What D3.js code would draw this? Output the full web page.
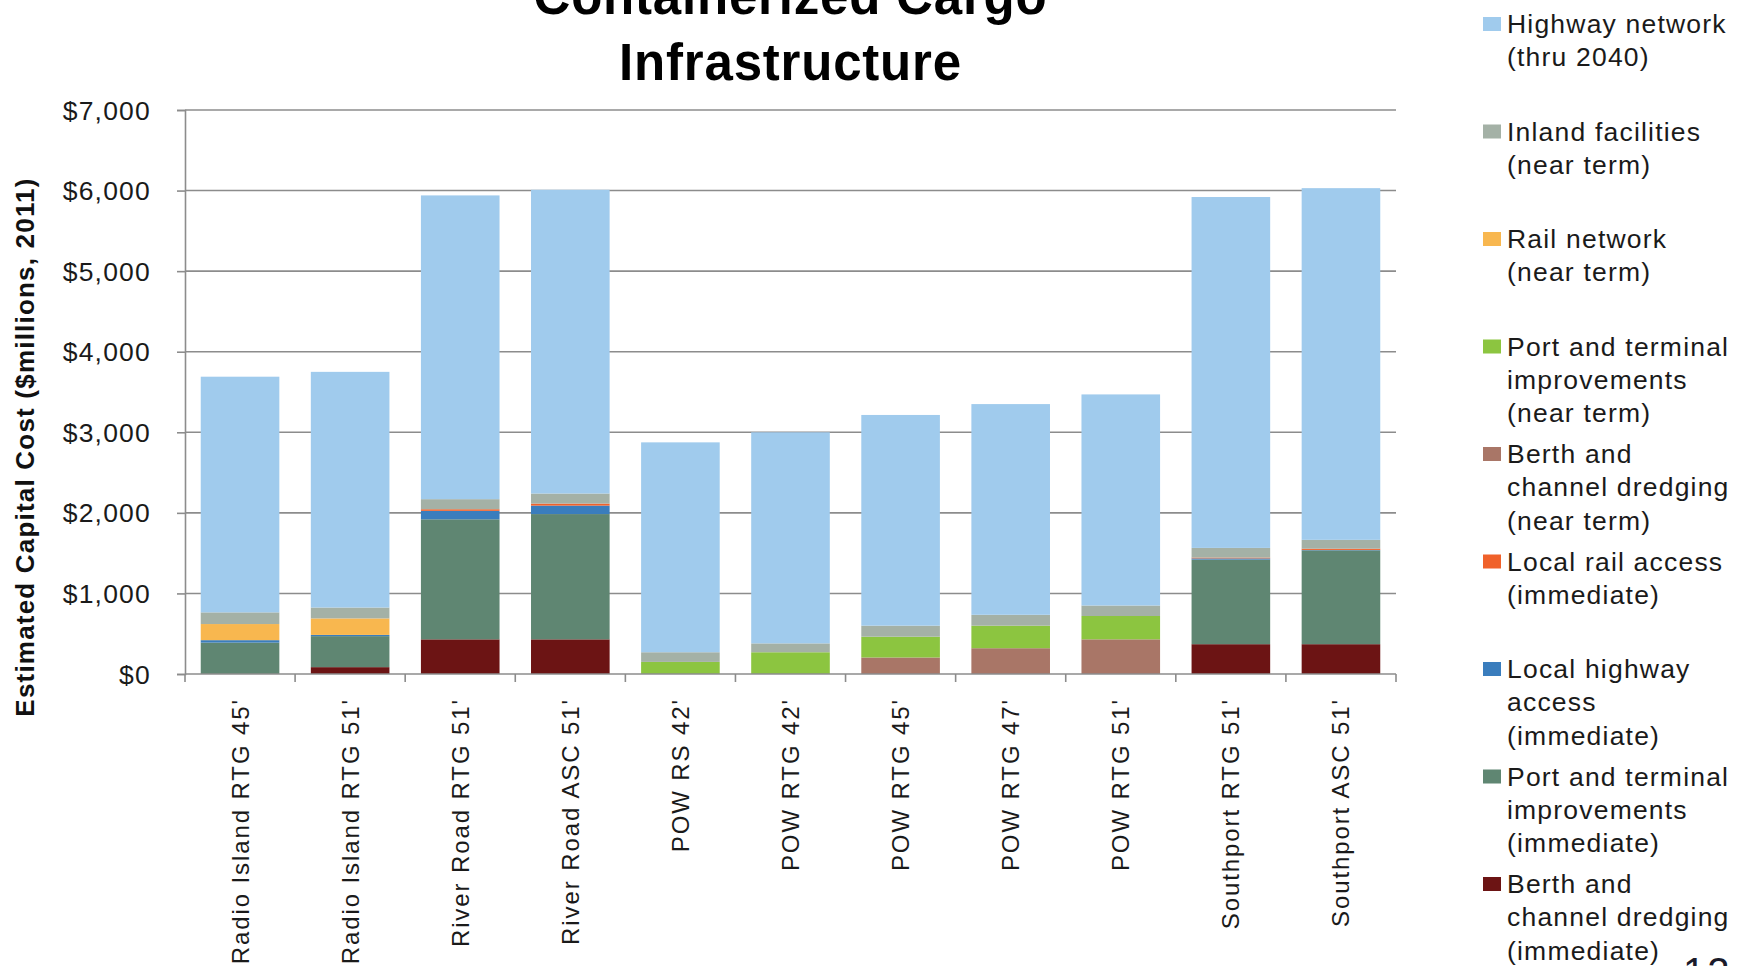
<!DOCTYPE html>
<html>
<head>
<meta charset="utf-8">
<script src="https://cdn.jsdelivr.net/npm/d3@7"></script>
<style>
  html, body { margin: 0; padding: 0; background: #ffffff; }
  svg { display: block; font-family: "Liberation Sans", Arial, sans-serif; }
</style>
</head>
<body>
<svg id="chart" width="1750" height="966"></svg>
<script>
// Terminal alternatives
const categories = [
  "Radio Island RTG 45'", "Radio Island RTG 51'", "River Road RTG 51'", "River Road ASC 51'",
  "POW RS 42'", "POW RTG 42'", "POW RTG 45'", "POW RTG 47'", "POW RTG 51'",
  "Southport RTG 51'", "Southport ASC 51'"
];

// Cost components, $ millions (2011), listed from the bottom of each stack upward
const berthImmediate = [0, 85, 430, 430, 0, 0, 0, 0, 0, 370, 370];
const portImmediate  = [390, 385, 1490, 1555, 0, 0, 0, 0, 0, 1050, 1165];
const localHighway   = [30, 15, 105, 105, 0, 0, 0, 0, 0, 15, 5];
const localRail      = [0, 0, 20, 25, 0, 0, 0, 0, 0, 10, 15];
const berthNearTerm  = [0, 0, 0, 0, 0, 0, 205, 320, 430, 0, 0];
const portNearTerm   = [0, 0, 0, 0, 150, 270, 258, 280, 290, 0, 0];
const railNetwork    = [200, 205, 0, 0, 0, 0, 0, 0, 0, 0, 0];
const inlandFacilities = [145, 135, 125, 125, 120, 110, 137, 135, 130, 120, 110];
const highwayNetwork = [2925, 2925, 3770, 3770, 2605, 2620, 2615, 2615, 2620, 4355, 4365];

const seriesKeys = [
  "berthImmediate", "portImmediate", "localHighway", "localRail", "berthNearTerm",
  "portNearTerm", "railNetwork", "inlandFacilities", "highwayNetwork"
];
const seriesValues = [
  berthImmediate, portImmediate, localHighway, localRail, berthNearTerm,
  portNearTerm, railNetwork, inlandFacilities, highwayNetwork
];
const seriesColors = [
  "#6c1414", "#5f8672", "#3a7dbd", "#f0612a", "#a97667",
  "#8cc540", "#f8b74f", "#a4b1a6", "#a0cbed"
];
// Legend text, top entry first, one array item per line
const legendLabels = [
  ["Highway network", "(thru 2040)"],
  ["Inland facilities", "(near term)"],
  ["Rail network", "(near term)"],
  ["Port and terminal", "improvements", "(near term)"],
  ["Berth and", "channel dredging", "(near term)"],
  ["Local rail access", "(immediate)"],
  ["Local highway", "access", "(immediate)"],
  ["Port and terminal", "improvements", "(immediate)"],
  ["Berth and", "channel dredging", "(immediate)"]
];
const yTicks = [0, 1000, 2000, 3000, 4000, 5000, 6000, 7000];
const titleLines = ["Containerized Cargo", "Infrastructure"];
const yTitle = "Estimated Capital Cost ($millions, 2011)";
const slideNumber = "12";

// ---- layout ----
const svg = d3.select("#chart");
const plot = { left: 185, right: 1396, top: 110, bottom: 674 };
const gridColor = "#8c8c8c";

const rows = categories.map((c, i) => {
  const r = { category: c };
  seriesKeys.forEach((k, j) => { r[k] = seriesValues[j][i]; });
  return r;
});
const stacked = d3.stack().keys(seriesKeys)(rows);

const x = d3.scaleBand()
  .domain(categories)
  .range([plot.left, plot.right])
  .paddingInner(0.286)
  .paddingOuter(0.143);
const y = d3.scaleLinear()
  .domain([0, 7000])
  .range([plot.bottom, plot.top]);

svg.append("rect").attr("width", 1750).attr("height", 966).attr("fill", "#ffffff");

// Horizontal gridlines
svg.append("g").selectAll("line")
  .data(yTicks.filter(d => d > 0))
  .join("line")
  .attr("x1", plot.left).attr("x2", plot.right)
  .attr("y1", d => y(d)).attr("y2", d => y(d))
  .attr("stroke", gridColor).attr("stroke-width", 1.6);

// Stacked bars
svg.append("g").selectAll("g")
  .data(stacked)
  .join("g")
  .attr("fill", (d, i) => seriesColors[i])
  .selectAll("rect")
  .data(d => d.filter(s => s[1] - s[0] > 0))
  .join("rect")
  .attr("x", d => x(d.data.category))
  .attr("width", x.bandwidth())
  .attr("y", d => y(d[1]))
  .attr("height", d => y(d[0]) - y(d[1]));

// Y axis
const yAxis = svg.append("g")
  .attr("transform", `translate(${plot.left},0)`)
  .call(d3.axisLeft(y).tickValues(yTicks).tickSize(8).tickPadding(26)
    .tickFormat(d => "$" + d3.format(",")(d)));
yAxis.select(".domain").attr("stroke", gridColor).attr("stroke-width", 1.6);
yAxis.selectAll(".tick line").attr("stroke", gridColor).attr("stroke-width", 1.6);
yAxis.selectAll(".tick text")
  .attr("font-size", 26.5).attr("fill", "#1a1a1a")
  .attr("letter-spacing", 1.2).attr("dy", "0.34em")
  .attr("font-family", "'Liberation Sans', Arial, sans-serif");

// X axis with ticks at category boundaries
const step = x.step();
const boundaries = categories.map(c => x(c) + x.bandwidth() / 2 - step / 2)
  .concat([x(categories[categories.length - 1]) + x.bandwidth() / 2 + step / 2]);
const xAxis = svg.append("g");
xAxis.append("line")
  .attr("x1", plot.left).attr("x2", plot.right)
  .attr("y1", y(0)).attr("y2", y(0))
  .attr("stroke", gridColor).attr("stroke-width", 1.6);
xAxis.selectAll("line.tick")
  .data(boundaries)
  .join("line")
  .attr("class", "tick")
  .attr("x1", d => d).attr("x2", d => d)
  .attr("y1", y(0)).attr("y2", y(0) + 8)
  .attr("stroke", gridColor).attr("stroke-width", 1.6);
xAxis.selectAll("text")
  .data(categories)
  .join("text")
  .attr("transform", d => `translate(${x(d) + x.bandwidth() / 2 + 8.5},698) rotate(-90)`)
  .attr("text-anchor", "end")
  .attr("font-size", 24)
  .attr("letter-spacing", 1.9)
  .attr("fill", "#1a1a1a")
  .text(d => d);

// Y axis title
svg.append("text")
  .attr("transform", "translate(34,447) rotate(-90)")
  .attr("text-anchor", "middle")
  .attr("font-size", 26)
  .attr("font-weight", "bold")
  .attr("letter-spacing", 1.2)
  .attr("fill", "#111111")
  .text(yTitle);

// Chart title
svg.append("g").selectAll("text")
  .data(titleLines)
  .join("text")
  .attr("x", (plot.left + plot.right) / 2)
  .attr("y", (d, i) => 14 + i * 66)
  .attr("text-anchor", "middle")
  .attr("font-size", 51)
  .attr("font-weight", "bold")
  .attr("letter-spacing", 0.8)
  .attr("fill", "#000000")
  .text(d => d);

// Legend, top entry = top of the stack
const legendTop = 33, legendSlot = 107.5, lineGap = 33.3;
const legend = svg.append("g");
const legendItems = legend.selectAll("g")
  .data(legendLabels)
  .join("g")
  .attr("transform", (d, i) => `translate(0,${legendTop + i * legendSlot})`);
legendItems.append("rect")
  .attr("x", 1483).attr("y", -16)
  .attr("width", 18).attr("height", 14)
  .attr("fill", (d, i) => seriesColors[seriesColors.length - 1 - i]);
legendItems.each(function(lines) {
  const t = d3.select(this).append("text")
    .attr("x", 1507)
    .attr("font-size", 26.5)
    .attr("letter-spacing", 1.2)
    .attr("fill", "#1a1a1a");
  lines.forEach((line, k) => {
    t.append("tspan").attr("x", 1507).attr("y", k * lineGap).text(line);
  });
});

// Slide number, mostly below the bottom edge
svg.append("text")
  .attr("x", 1683).attr("y", 986)
  .attr("font-size", 40)
  .attr("fill", "#1a1a2a")
  .attr("letter-spacing", 2)
  .text(slideNumber);
</script>
</body>
</html>
